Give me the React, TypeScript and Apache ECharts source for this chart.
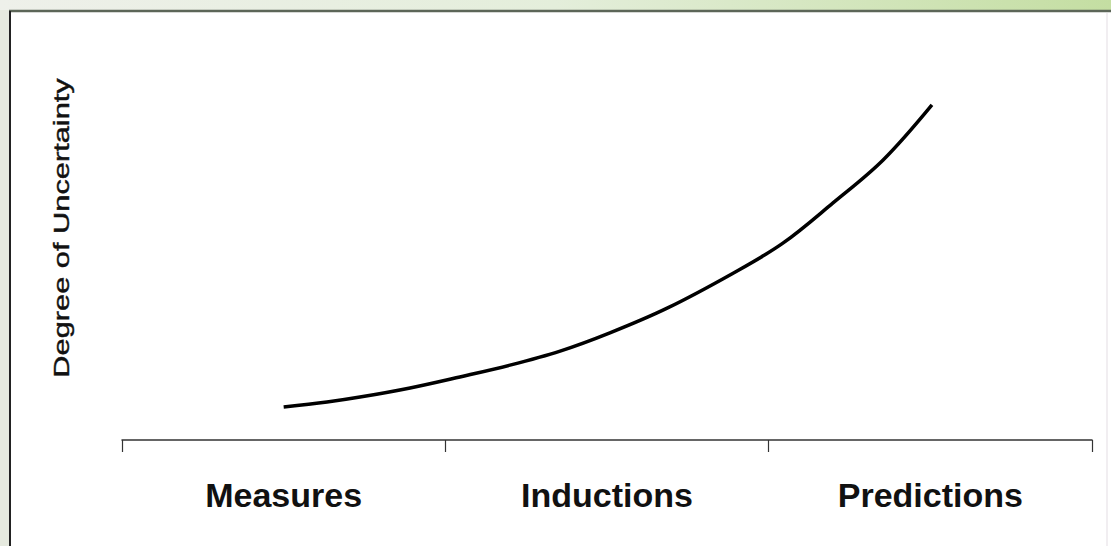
import React, { useEffect, useRef } from "react";
import * as echarts from "echarts";

const categories = ["Measures", "Inductions", "Predictions"];
const curveX = [0.5, 0.634, 0.736, 0.891, 1.045, 1.2, 1.355, 1.509, 1.686, 1.89, 2.044, 2.199, 2.354, 2.505];
const curveY = [8.7, 10.0, 11.3, 13.7, 16.6, 19.7, 23.4, 28.2, 34.7, 43.9, 51.8, 62.4, 73.7, 88.2];
const yTitle = "Degree of Uncertainty";

export default function App() {
  const ref = useRef<HTMLDivElement>(null);
  useEffect(() => {
    if (!ref.current) return;
    const chart = echarts.init(ref.current, null, { renderer: "svg" });
    const data = curveX.map((x, i) => [x, curveY[i]]);
    chart.setOption({
      animation: false,
      backgroundColor: "#ffffff",
      grid: { left: 122, right: 19, top: 60, bottom: 106 },
      xAxis: [
        {
          type: "category",
          data: categories,
          boundaryGap: true,
          axisLine: { show: true, lineStyle: { color: "#333333", width: 1.5 } },
          axisTick: { show: true, length: 12, lineStyle: { color: "#333333", width: 1.2 } },
          axisLabel: {
            fontSize: 34,
            fontWeight: "bold",
            fontFamily: "Liberation Sans, Arial, sans-serif",
            color: "#111111",
            margin: 38,
          },
          splitLine: { show: false },
        },
        { type: "value", min: 0, max: 3, show: false },
      ],
      yAxis: {
        type: "value",
        min: 0,
        max: 100,
        show: false,
      },
      graphic: [
        {
          type: "rect",
          z: -10,
          silent: true,
          shape: { x: 0, y: 0, width: 1111, height: 10 },
          style: {
            fill: new echarts.graphic.LinearGradient(0, 0, 1, 0, [
              { offset: 0, color: "#eef0ea" },
              { offset: 0.5, color: "#e4eedb" },
              { offset: 1, color: "#c4dea2" },
            ]),
          },
        },
        {
          type: "rect",
          z: -10,
          silent: true,
          shape: { x: 0, y: 10, width: 10, height: 536 },
          style: { fill: "#e6eadf" },
        },
        {
          type: "line",
          silent: true,
          shape: { x1: 9, y1: 11, x2: 1111, y2: 11 },
          style: { stroke: "#5c6658", lineWidth: 2.5 },
        },
        {
          type: "line",
          silent: true,
          shape: { x1: 10, y1: 11, x2: 10, y2: 546 },
          style: { stroke: "#222222", lineWidth: 2 },
        },
        {
          type: "line",
          silent: true,
          shape: { x1: 1107, y1: 13, x2: 1107, y2: 546 },
          style: { stroke: "#f1eef1", lineWidth: 2 },
        },
        {
          type: "text",
          x: 62,
          y: 228,
          rotation: Math.PI / 2,
          scaleX: 1.4,
          style: {
            text: yTitle,
            font: "normal 22px 'Liberation Sans', Arial, sans-serif",
            fill: "#111111",
            stroke: "#111111",
            lineWidth: 0.4,
            textAlign: "center",
            textVerticalAlign: "middle",
          },
        },
      ],
      series: [
        {
          type: "line",
          xAxisIndex: 1,
          yAxisIndex: 0,
          data,
          smooth: 0.35,
          symbol: "none",
          lineStyle: { color: "#000000", width: 3.5 },
        },
      ],
    });
    return () => chart.dispose();
  }, []);
  return (
    <div
      ref={ref}
      style={{ position: "absolute", left: 0, top: 0, width: 1111, height: 546 }}
    />
  );
}
